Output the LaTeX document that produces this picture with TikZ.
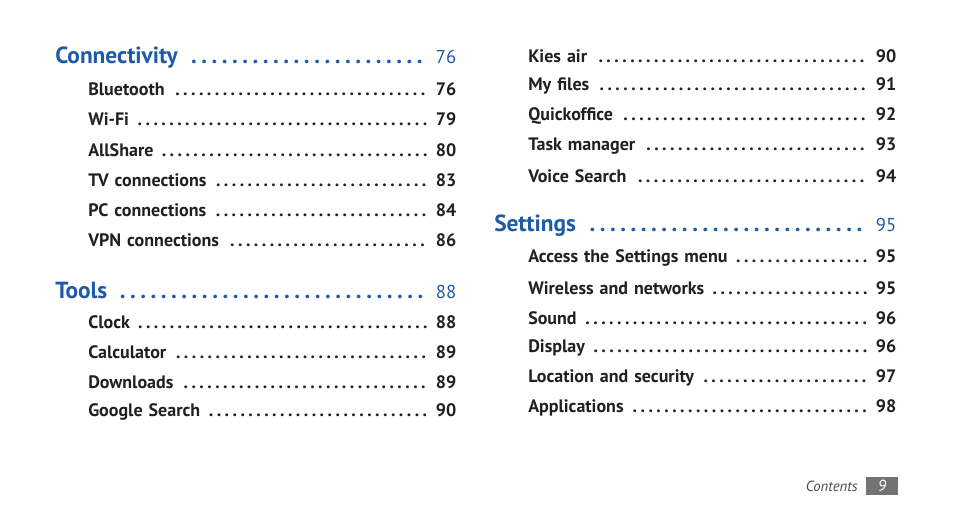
\documentclass[tikz,border=0pt]{standalone}
\usepackage{fontspec}
\setmainfont{PT Sans}
\definecolor{hblue}{HTML}{1F5AA6}
\definecolor{txt}{HTML}{231F20}
\begin{document}
\begin{tikzpicture}[x=0.75pt,y=-0.75pt,
  entry/.style={anchor=west,inner sep=0pt,text width=276pt,align=left,font=\fontsize{13.5}{16}\selectfont\bfseries,text=txt},
  head/.style={anchor=west,inner sep=0pt,text width=#1,align=left,font=\fontsize{17.5}{20}\selectfont\bfseries,text=hblue}]
\useasboundingbox (0,0) rectangle (954,518);
\newcommand{\ent}[4]{\node[entry] (#1) at (#2) {#3 \dotfill\ #4};}
\newcommand{\hd}[5]{\node[head=#5] (#1) at (#2) {#3 \dotfill\ {\mdseries\fontsize{14}{16}\selectfont #4}};}
\hd{h1}{55,58}{Connectivity}{76}{300.75pt}
\ent{a1}{88,89}{Bluetooth}{76}
\ent{a2}{88,119}{Wi-Fi}{79}
\ent{a3}{88,150}{AllShare}{80}
\ent{a4}{88,180}{TV connections}{83}
\ent{a5}{88,210}{PC connections}{84}
\ent{a6}{88,240}{VPN connections}{86}
\hd{h2}{55,290}{Tools}{88}{300.75pt}
\ent{b1}{88,322}{Clock}{88}
\ent{b2}{88,352}{Calculator}{89}
\ent{b3}{88,382}{Downloads}{89}
\ent{b4}{88,412}{Google Search}{90}
\ent{c1}{528,56}{Kies air}{90}
\ent{c2}{528,86}{My files}{91}
\ent{c3}{528,116}{Quickoffice}{92}
\ent{c4}{528,146}{Task manager}{93}
\ent{c5}{528,176}{Voice Search}{94}
\hd{h3}{494,226}{Settings}{95}{301.5pt}
\ent{d1}{528,258}{Access the Settings menu}{95}
\ent{d2}{528,288}{Wireless and networks}{95}
\ent{d3}{528,318}{Sound}{96}
\ent{d4}{528,348}{Display}{96}
\ent{d5}{528,378}{Location and security}{97}
\ent{d6}{528,408}{Applications}{98}
\node[anchor=east,inner sep=0pt,font=\fontsize{11}{13}\selectfont\itshape,text=black!70] (ft) at (858,486) {Contents};
\fill[black!55] (866,477) rectangle (898,495);
\node[inner sep=0pt,font=\fontsize{12}{14}\selectfont\itshape,text=white] (pg) at (882,486) {9};
\end{tikzpicture}
\end{document}
